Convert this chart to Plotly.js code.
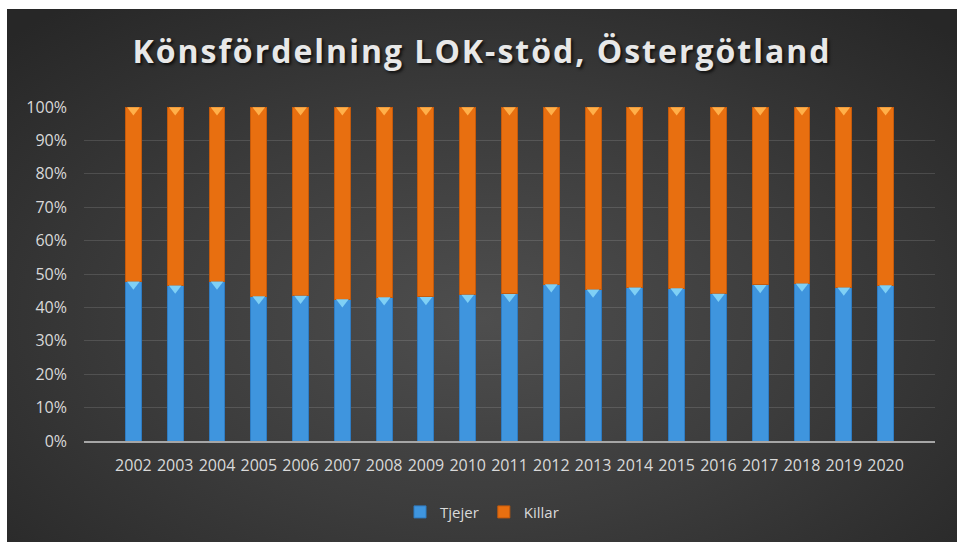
<!DOCTYPE html>
<html>
<head>
<meta charset="utf-8">
<script src="https://cdn.plot.ly/plotly-3.0.1.min.js"></script>
<style>
  html, body { margin: 0; padding: 0; background: #ffffff; }
  #chart {
    position: absolute; left: 7px; top: 9px; width: 950px; height: 533px;
    background: radial-gradient(ellipse 70% 75% at 50% 58%, #4e4e4e 0%, #3c3c3c 50%, #272727 100%);
  }
  #chart .gtitle { letter-spacing: 2px; }
</style>
</head>
<body>
<div id="chart"></div>
<script>
const years = ['2002', '2003', '2004', '2005', '2006', '2007', '2008', '2009', '2010', '2011',
  '2012', '2013', '2014', '2015', '2016', '2017', '2018', '2019', '2020'];
// andel i procent
const tjejer = [47.8, 46.6, 47.8, 43.4, 43.6, 42.5, 43.1, 43.2, 43.9, 44.1,
  47.0, 45.4, 46.0, 45.8, 44.2, 46.8, 47.2, 46.0, 46.7];
const killar = [52.2, 53.4, 52.2, 56.6, 56.4, 57.5, 56.9, 56.8, 56.1, 55.9,
  53.0, 54.6, 54.0, 54.2, 55.8, 53.2, 52.8, 54.0, 53.3];

const blue = '#3f95de', orange = '#e86f10';
const fontFam = '"Open Sans", "DejaVu Sans", sans-serif';

const bar = (name, y, color, edge) => ({
  type: 'bar', name, x: years, y,
  marker: { color, line: { color: edge, width: 1 } },
  hoverinfo: 'skip'
});

// spetsen överst på varje stapel
const cap = (y, color) => ({
  type: 'scatter', mode: 'markers', x: years, y, yaxis: 'y2',
  marker: { symbol: 'triangle-down', size: 11, color },
  showlegend: false, hoverinfo: 'skip', cliponaxis: false
});

const topKillar = tjejer.map((t, i) => t + killar[i]);

const data = [
  bar('Tjejer', tjejer, blue, '#2f7cc2'),
  bar('Killar', killar, orange, '#c45a0c'),
  cap(tjejer, '#7fd0f5'),
  cap(topKillar, '#ffb04a')
];

const layout = {
  width: 950, height: 533,
  margin: { l: 77, r: 22, t: 98, b: 101 },
  paper_bgcolor: 'rgba(0,0,0,0)', plot_bgcolor: 'rgba(0,0,0,0)',
  barmode: 'stack', bargap: 0.62,
  showlegend: true,
  title: {
    text: 'Könsfördelning LOK-stöd, Östergötland',
    x: 0.5, xanchor: 'center', xref: 'container',
    y: 0.92, yanchor: 'middle', yref: 'container',
    font: { family: fontFam, size: 32, color: '#e8e8e8', weight: 700, shadow: '2px 2px 3px rgba(0,0,0,0.7)' }
  },
  font: { family: fontFam, color: '#d9d9d9', size: 16 },
  xaxis: {
    type: 'category', showgrid: false, showline: true, linecolor: '#a6a6a6', linewidth: 2,
    ticks: '', ticklabelstandoff: 9, tickfont: { size: 16, color: '#d9d9d9' }, fixedrange: true
  },
  yaxis: {
    range: [0, 100], dtick: 10, ticksuffix: '%', showgrid: true,
    gridcolor: 'rgba(255,255,255,0.13)', gridwidth: 1, zeroline: false,
    ticks: '', ticklabelstandoff: 16, tickfont: { size: 16, color: '#d9d9d9' }, fixedrange: true
  },
  yaxis2: {
    overlaying: 'y', range: [0.9, 100.9], visible: false, fixedrange: true
  },
  legend: {
    orientation: 'h', xref: 'container', yref: 'container', traceorder: 'normal',
    x: 0.5, xanchor: 'center', y: 0.056, yanchor: 'middle',
    font: { size: 15, color: '#d9d9d9' }, itemwidth: 30
  }
};

Plotly.newPlot('chart', data, layout, { displayModeBar: false, staticPlot: true });
</script>
</body>
</html>
